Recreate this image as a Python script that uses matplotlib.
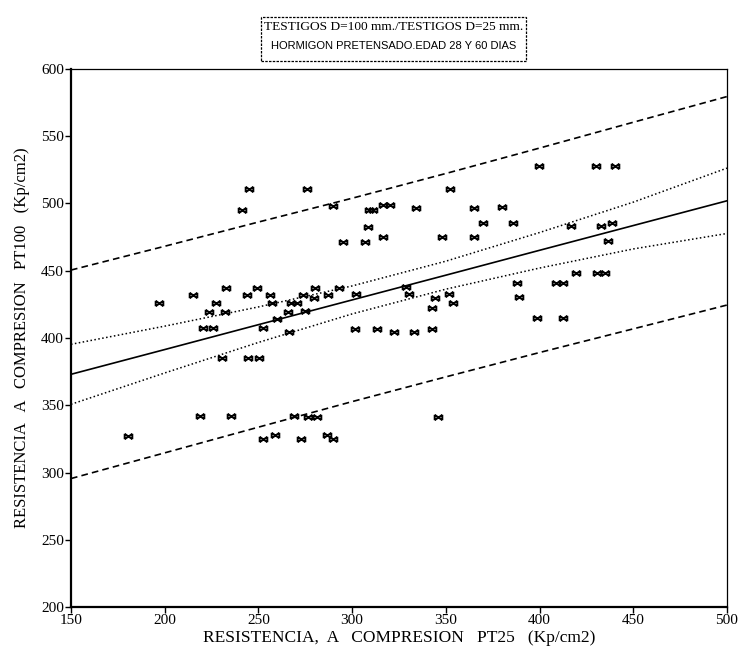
import matplotlib.pyplot as plt
from matplotlib.path import Path
from matplotlib.patches import Rectangle

# measured pairs (Kp/cm2): core D=25 mm vs core D=100 mm
pt25 = [180.4, 218.7, 235.5, 252.4, 258.9, 269.0, 272.6, 276.2, 281.1, 286.4, 289.6, 346.0,
        230.4, 244.6, 250.5, 220.6, 225.9, 252.6, 266.5, 259.8, 223.8, 232.2, 265.6, 274.6,
        301.5, 313.5, 322.5, 333.0, 342.5, 342.5, 353.7, 344.2, 351.9, 330.4, 328.8,
        197.1, 227.4, 257.1, 267.2, 270.4, 214.9, 244.1, 256.2, 273.6, 287.3, 279.7,
        232.7, 249.1, 280.4, 293.1, 302.1,
        388.1, 408.8, 412.6, 389.0, 398.8, 412.7, 419.5, 430.9, 434.9,
        245.1, 276.1, 241.1, 290.0, 352.2, 308.8, 311.2, 316.3, 320.2, 334.1,
        308.6, 295.3, 306.9, 316.7, 348.1, 365.0, 365.0, 370.0, 380.2, 386.0,
        399.7, 429.9, 440.3, 416.6, 432.6, 438.5, 436.3]
pt100 = [327.5, 342.0, 342.0, 325.0, 328.0, 342.0, 325.0, 341.0, 341.5, 328.2, 325.0, 341.5,
         385.4, 385.4, 385.4, 407.7, 407.7, 407.7, 404.2, 413.9, 419.6, 419.6, 419.6, 420.0,
         406.7, 406.7, 404.7, 404.7, 406.7, 422.0, 426.2, 430.0, 432.5, 432.7, 438.1,
         425.8, 425.8, 425.8, 425.8, 425.8, 432.0, 432.0, 432.0, 432.3, 432.0, 430.0,
         437.0, 437.0, 437.4, 437.4, 432.5,
         440.7, 440.7, 440.7, 430.3, 414.7, 414.7, 448.1, 448.1, 448.1,
         510.6, 510.8, 494.9, 498.4, 510.8, 495.2, 495.2, 498.9, 498.9, 496.9,
         482.8, 471.6, 471.6, 475.3, 475.3, 475.3, 496.9, 485.5, 497.1, 485.7,
         528.1, 528.1, 528.1, 483.5, 483.5, 485.7, 472.3]

# regression line and bands
band_x = [150, 200, 250, 300, 350, 400, 450, 500]
fit_y = [373.0, 391.4, 409.9, 428.3, 446.7, 465.2, 483.6, 502.0]
conf_hi = [395.3, 408.8, 423.1, 438.7, 457.1, 478.4, 501.0, 526.3]
conf_lo = [350.7, 374.0, 396.7, 417.9, 436.3, 452.0, 466.2, 477.7]
pred_hi = [450.5, 468.2, 486.2, 503.9, 522.3, 541.2, 560.4, 579.5]
pred_lo = [295.5, 314.6, 333.7, 352.7, 371.1, 389.2, 406.8, 424.5]

# bowtie marker with end bars
star = Path([(-1, -0.7), (1, 0.7), (-1, 0.7), (1, -0.7),
             (-1, -0.7), (-1, 0.7), (1, -0.7), (1, 0.7)],
            [Path.MOVETO, Path.LINETO, Path.MOVETO, Path.LINETO,
             Path.MOVETO, Path.LINETO, Path.MOVETO, Path.LINETO])

serif = 'Liberation Serif'

fig = plt.figure(figsize=(7.4, 6.52), dpi=100)
ax = fig.add_axes([0.0959, 0.069, 0.8865, 0.8252])

ax.plot(band_x, pred_hi, color='black', lw=1.2, linestyle=(0, (4, 2.5)))
ax.plot(band_x, pred_lo, color='black', lw=1.2, linestyle=(0, (4, 2.5)))
ax.plot(band_x, conf_hi, color='black', lw=1.1, linestyle=(0, (1, 1.6)))
ax.plot(band_x, conf_lo, color='black', lw=1.1, linestyle=(0, (1, 1.6)))
ax.plot(band_x, fit_y, color='black', lw=1.2)
ax.plot(pt25, pt100, linestyle='none', marker=star, markersize=5.5,
        markeredgecolor='black', markeredgewidth=1.4)

ax.set_xlim(150, 500)
ax.set_ylim(200, 600)
ax.set_xticks(range(150, 501, 50))
ax.set_yticks(range(200, 601, 50))
ax.tick_params(direction='out', length=4, width=1, labelsize=11, pad=1)
for lab in ax.get_xticklabels() + ax.get_yticklabels():
    lab.set_fontfamily(serif)

ax.spines['left'].set_linewidth(1.6)
ax.spines['bottom'].set_linewidth(1.6)
ax.spines['top'].set_linewidth(0.9)
ax.spines['right'].set_linewidth(0.9)

ax.set_xlabel('RESISTENCIA,  A   COMPRESION   PT25   (Kp/cm2)', fontfamily=serif,
              fontsize=12.5, labelpad=2)
ax.set_ylabel('RESISTENCIA   A   COMPRESION   PT100   (Kp/cm2)', fontfamily=serif,
              fontsize=12, labelpad=8)

# title box
fig.patches.append(Rectangle((261 / 740, 1 - 61 / 652), 265 / 740, 44 / 652,
                             transform=fig.transFigure, fill=False,
                             edgecolor='black', lw=0.9, linestyle=(0, (2, 1))))
fig.text(393.5 / 740, 1 - 27 / 652, 'TESTIGOS D=100 mm./TESTIGOS D=25 mm.',
         fontfamily=serif, fontsize=9.6, ha='center', va='center')
fig.text(393.5 / 740, 1 - 46 / 652, 'HORMIGON PRETENSADO.EDAD 28 Y 60 DIAS',
         fontfamily='Liberation Sans', fontsize=8, ha='center', va='center')

fig.savefig('out.png', dpi=100)
